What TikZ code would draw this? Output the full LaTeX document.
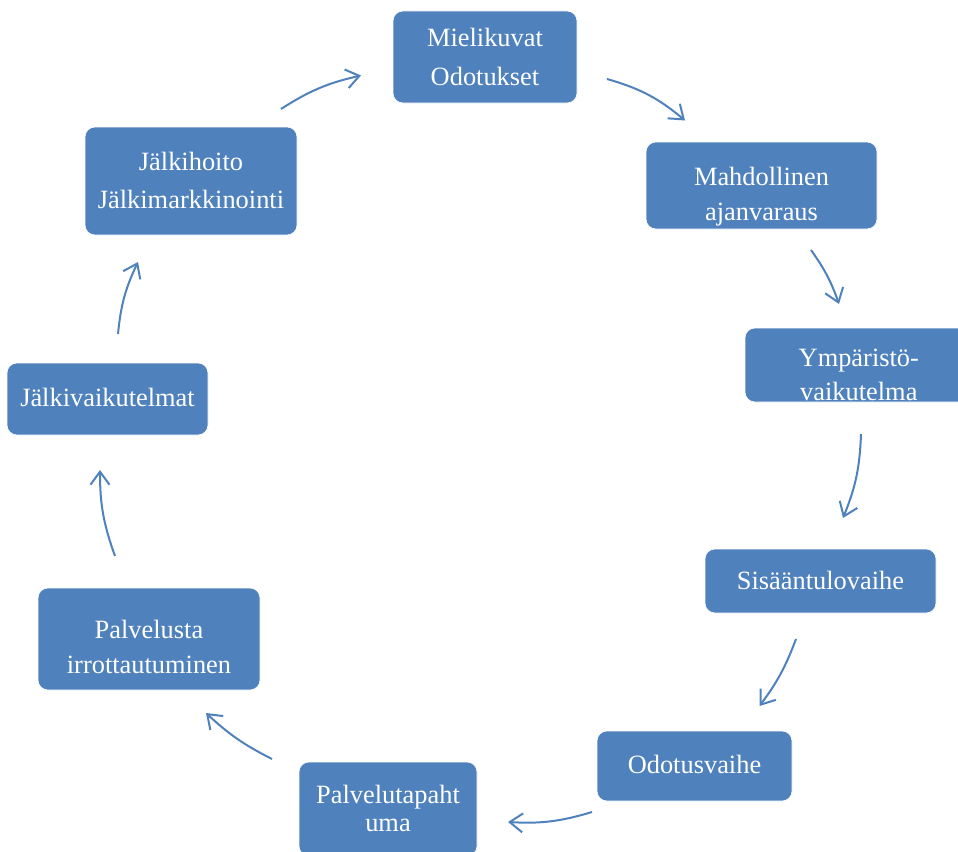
\documentclass[tikz,border=0pt]{standalone}
\usepackage{fontspec}
\setmainfont{Liberation Serif}
\usetikzlibrary{arrows.meta}
\definecolor{boxblue}{HTML}{4F81BD}
\tikzset{
  box/.style={rectangle, rounded corners=10pt, fill=boxblue, draw=white, line width=0.6pt, inner sep=0pt, outer sep=0pt},
  txt/.style={text=white, font=\fontsize{26.4}{30}\selectfont, inner sep=0pt, anchor=base},
  conn/.style={draw=boxblue, line width=2pt, -{Straight Barb[length=13pt,width=19pt,line width=2pt]}},
}
\begin{document}
\begin{tikzpicture}[x=1pt,y=-1pt]
\useasboundingbox (0,0) rectangle (958,851);
% boxes
\node[box, minimum width=184pt, minimum height=92pt] (b1) at (485,57) {};
\node[box, minimum width=231pt, minimum height=87pt] (b2) at (761.5,185.5) {};
\node[box, minimum width=227pt, minimum height=74pt] (b3) at (858.5,365) {};
\node[box, minimum width=231pt, minimum height=64pt] (b4) at (820.5,581) {};
\node[box, minimum width=195pt, minimum height=70pt] (b5) at (694.5,766) {};
\node[box, minimum width=178pt, minimum height=94pt] (b6) at (388,809) {};
\node[box, minimum width=222pt, minimum height=102pt] (b7) at (149,639) {};
\node[box, minimum width=201pt, minimum height=72pt] (b8) at (107.5,399) {};
\node[box, minimum width=212pt, minimum height=108pt] (b9) at (191,181) {};
% texts
\node[txt] (t1a) at (485,47) {Mielikuvat};
\node[txt] (t1b) at (485,85) {Odotukset};
\node[txt] (t2a) at (761.5,185) {Mahdollinen};
\node[txt] (t2b) at (761.5,220) {ajanvaraus};
\node[txt] (t3a) at (858.8,366) {Ympäristö-};
\node[txt] (t3b) at (858.8,400) {vaikutelma};
\node[txt] (t4) at (820.5,589.3) {Sisääntulovaihe};
\node[txt] (t5) at (694.5,773.3) {Odotusvaihe};
\node[txt] (t6a) at (388,803) {Palvelutapaht};
\node[txt] (t6b) at (388,831) {uma};
\node[txt] (t7a) at (149,638.3) {Palvelusta};
\node[txt] (t7b) at (149,673.3) {irrottautuminen};
\node[txt] (t8) at (107.5,406.7) {Jälkivaikutelmat};
\node[txt] (t9a) at (191,170) {Jälkihoito};
\node[txt] (t9b) at (191,208.3) {Jälkimarkkinointi};
% connector ends
\coordinate (a1s) at (607,79);  \coordinate (a1e) at (685,120.5);
\coordinate (a2s) at (811,250); \coordinate (a2e) at (839,304);
\coordinate (a3s) at (861,434); \coordinate (a3e) at (843,518);
\coordinate (a4s) at (796,639); \coordinate (a4e) at (759.5,706);
\coordinate (a5s) at (592,812); \coordinate (a5e) at (508,822);
\coordinate (a6s) at (272,759); \coordinate (a6e) at (206,713);
\coordinate (a7s) at (115,556); \coordinate (a7e) at (100,470);
\coordinate (a8s) at (118,334); \coordinate (a8e) at (138,262);
\coordinate (a9s) at (281,109); \coordinate (a9e) at (361,75.5);
% connectors
\draw[conn] (a1s) to[bend left=12] (a1e);
\draw[conn] (a2s) to[bend left=8] (a2e);
\draw[conn] (a3s) to[bend left=10] (a3e);
\draw[conn] (a4s) to[bend left=8] (a4e);
\draw[conn] (a5s) to[bend left=10] (a5e);
\draw[conn] (a6s) to[bend left=8] (a6e);
\draw[conn] (a7s) to[bend left=10] (a7e);
\draw[conn] (a8s) to[bend left=10] (a8e);
\draw[conn] (a9s) to[bend left=10] (a9e);
\end{tikzpicture}
\end{document}
